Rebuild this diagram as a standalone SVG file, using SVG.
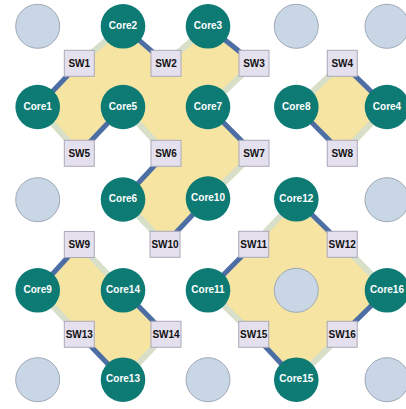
<svg xmlns="http://www.w3.org/2000/svg" width="406" height="409" viewBox="0 0 406 409">
<style>
.area{fill:#f5e4a2;stroke:none}
.b{stroke:#4d6ea4;stroke-width:5;fill:none}
.p{stroke:#d8dfc9;stroke-width:6;fill:none}
.core{fill:#0d7a74}
.empty{fill:#c9d6e5;stroke:#9ea8b6;stroke-width:1}
.sw{fill:#e4e0ee;stroke:#aca8b8;stroke-width:1}
.ct{fill:#ffffff;font-family:"Liberation Sans",Arial,sans-serif;font-weight:bold;font-size:10px;text-anchor:middle;dominant-baseline:central}
.st{fill:#111111;font-family:"Liberation Sans",Arial,sans-serif;font-weight:bold;font-size:10px;text-anchor:middle;dominant-baseline:central}
</style>
<rect width="406" height="409" fill="#ffffff"/>
<g id="areas">
<polygon class="area" points="37.7,107 79.3,63.3 123,26.3 166,63.3 208,26.3 254,63.3 208,107 254,153.3 208,198.5 165,244.3 123,199.5 166,153.3 123,107 79.3,153.3"/>
<polygon class="area" points="296.3,107 342.3,63.3 387,107 342.3,153.3"/>
<polygon class="area" points="37.7,290.3 79.3,244.5 123,290.3 166,334.3 123,379.7 79.3,334.3"/>
<polygon class="area" points="208,290.3 253.7,244.3 296.3,199.3 342.2,244.3 387,290.3 342.2,334.3 296.3,379.7 253.7,334.3"/>
</g>
<g id="connectors">
<line class="b" x1="37.7" y1="107" x2="79.3" y2="63.3"/>
<line class="p" x1="79.3" y1="63.3" x2="123" y2="26.3"/>
<line class="b" x1="123" y1="26.3" x2="166" y2="63.3"/>
<line class="p" x1="166" y1="63.3" x2="208" y2="26.3"/>
<line class="b" x1="208" y1="26.3" x2="254" y2="63.3"/>
<line class="p" x1="254" y1="63.3" x2="208" y2="107"/>
<line class="b" x1="208" y1="107" x2="254" y2="153.3"/>
<line class="p" x1="254" y1="153.3" x2="208" y2="198.5"/>
<line class="b" x1="208" y1="198.5" x2="165" y2="244.3"/>
<line class="p" x1="165" y1="244.3" x2="123" y2="199.5"/>
<line class="b" x1="123" y1="199.5" x2="166" y2="153.3"/>
<line class="p" x1="166" y1="153.3" x2="123" y2="107"/>
<line class="b" x1="123" y1="107" x2="79.3" y2="153.3"/>
<line class="p" x1="79.3" y1="153.3" x2="37.7" y2="107"/>
<line class="p" x1="296.3" y1="107" x2="342.3" y2="63.3"/>
<line class="b" x1="342.3" y1="63.3" x2="387" y2="107"/>
<line class="p" x1="387" y1="107" x2="342.3" y2="153.3"/>
<line class="b" x1="342.3" y1="153.3" x2="296.3" y2="107"/>
<line class="b" x1="37.7" y1="290.3" x2="79.3" y2="244.5"/>
<line class="p" x1="79.3" y1="244.5" x2="123" y2="290.3"/>
<line class="b" x1="123" y1="290.3" x2="166" y2="334.3"/>
<line class="p" x1="166" y1="334.3" x2="123" y2="379.7"/>
<line class="b" x1="123" y1="379.7" x2="79.3" y2="334.3"/>
<line class="p" x1="79.3" y1="334.3" x2="37.7" y2="290.3"/>
<line class="b" x1="208" y1="290.3" x2="253.7" y2="244.3"/>
<line class="p" x1="253.7" y1="244.3" x2="296.3" y2="199.3"/>
<line class="b" x1="296.3" y1="199.3" x2="342.2" y2="244.3"/>
<line class="p" x1="342.2" y1="244.3" x2="387" y2="290.3"/>
<line class="b" x1="387" y1="290.3" x2="342.2" y2="334.3"/>
<line class="p" x1="342.2" y1="334.3" x2="296.3" y2="379.7"/>
<line class="b" x1="296.3" y1="379.7" x2="253.7" y2="334.3"/>
<line class="p" x1="253.7" y1="334.3" x2="208" y2="290.3"/>
</g>
<g id="empty-slots">
<circle class="empty" cx="37.7" cy="26.3" r="22"/>
<circle class="empty" cx="296.3" cy="26.3" r="22"/>
<circle class="empty" cx="387" cy="26.3" r="22"/>
<circle class="empty" cx="37.7" cy="199.7" r="22"/>
<circle class="empty" cx="387" cy="199.7" r="22"/>
<circle class="empty" cx="296.3" cy="290.3" r="22"/>
<circle class="empty" cx="37.7" cy="379.7" r="22"/>
<circle class="empty" cx="208" cy="379.7" r="22"/>
<circle class="empty" cx="387" cy="379.7" r="22"/>
</g>
<g id="Core1"><circle class="core" cx="37.7" cy="107" r="22.3"/><text class="ct" x="37.7" y="106">Core1</text></g>
<g id="Core2"><circle class="core" cx="123" cy="26.3" r="22.3"/><text class="ct" x="123" y="25.3">Core2</text></g>
<g id="Core3"><circle class="core" cx="208" cy="26.3" r="22.3"/><text class="ct" x="208" y="25.3">Core3</text></g>
<g id="Core4"><circle class="core" cx="387" cy="107" r="22.3"/><text class="ct" x="387" y="106">Core4</text></g>
<g id="Core5"><circle class="core" cx="123" cy="107" r="22.3"/><text class="ct" x="123" y="106">Core5</text></g>
<g id="Core6"><circle class="core" cx="123" cy="199.5" r="22.3"/><text class="ct" x="123" y="198.5">Core6</text></g>
<g id="Core7"><circle class="core" cx="208" cy="107" r="22.3"/><text class="ct" x="208" y="106">Core7</text></g>
<g id="Core8"><circle class="core" cx="296.3" cy="107" r="22.3"/><text class="ct" x="296.3" y="106">Core8</text></g>
<g id="Core9"><circle class="core" cx="37.7" cy="290.3" r="22.3"/><text class="ct" x="37.7" y="289.3">Core9</text></g>
<g id="Core10"><circle class="core" cx="208" cy="198.5" r="22.3"/><text class="ct" x="208" y="197.5">Core10</text></g>
<g id="Core11"><circle class="core" cx="208" cy="290.3" r="22.3"/><text class="ct" x="208" y="289.3">Core11</text></g>
<g id="Core12"><circle class="core" cx="296.3" cy="199.3" r="22.3"/><text class="ct" x="296.3" y="198.3">Core12</text></g>
<g id="Core13"><circle class="core" cx="123" cy="379.7" r="22.3"/><text class="ct" x="123" y="378.7">Core13</text></g>
<g id="Core14"><circle class="core" cx="123" cy="290.3" r="22.3"/><text class="ct" x="123" y="289.3">Core14</text></g>
<g id="Core15"><circle class="core" cx="296.3" cy="379.7" r="22.3"/><text class="ct" x="296.3" y="378.7">Core15</text></g>
<g id="Core16"><circle class="core" cx="387" cy="290.3" r="22.3"/><text class="ct" x="387" y="289.3">Core16</text></g>
<g id="SW1"><rect class="sw" x="64.3" y="50.3" width="30" height="26"/><text class="st" x="79.3" y="63.3">SW1</text></g>
<g id="SW2"><rect class="sw" x="151" y="50.3" width="30" height="26"/><text class="st" x="166" y="63.3">SW2</text></g>
<g id="SW3"><rect class="sw" x="239" y="50.3" width="30" height="26"/><text class="st" x="254" y="63.3">SW3</text></g>
<g id="SW4"><rect class="sw" x="327.3" y="50.3" width="30" height="26"/><text class="st" x="342.3" y="63.3">SW4</text></g>
<g id="SW5"><rect class="sw" x="64.3" y="140.3" width="30" height="26"/><text class="st" x="79.3" y="153.3">SW5</text></g>
<g id="SW6"><rect class="sw" x="151" y="140.3" width="30" height="26"/><text class="st" x="166" y="153.3">SW6</text></g>
<g id="SW7"><rect class="sw" x="239" y="140.3" width="30" height="26"/><text class="st" x="254" y="153.3">SW7</text></g>
<g id="SW8"><rect class="sw" x="327.3" y="140.3" width="30" height="26"/><text class="st" x="342.3" y="153.3">SW8</text></g>
<g id="SW9"><rect class="sw" x="64.3" y="231.5" width="30" height="26"/><text class="st" x="79.3" y="244.5">SW9</text></g>
<g id="SW10"><rect class="sw" x="150" y="231.3" width="30" height="26"/><text class="st" x="165" y="244.3">SW10</text></g>
<g id="SW11"><rect class="sw" x="238.7" y="231.3" width="30" height="26"/><text class="st" x="253.7" y="244.3">SW11</text></g>
<g id="SW12"><rect class="sw" x="327.2" y="231.3" width="30" height="26"/><text class="st" x="342.2" y="244.3">SW12</text></g>
<g id="SW13"><rect class="sw" x="64.3" y="321.3" width="30" height="26"/><text class="st" x="79.3" y="334.3">SW13</text></g>
<g id="SW14"><rect class="sw" x="151" y="321.3" width="30" height="26"/><text class="st" x="166" y="334.3">SW14</text></g>
<g id="SW15"><rect class="sw" x="238.7" y="321.3" width="30" height="26"/><text class="st" x="253.7" y="334.3">SW15</text></g>
<g id="SW16"><rect class="sw" x="327.2" y="321.3" width="30" height="26"/><text class="st" x="342.2" y="334.3">SW16</text></g>
</svg>
